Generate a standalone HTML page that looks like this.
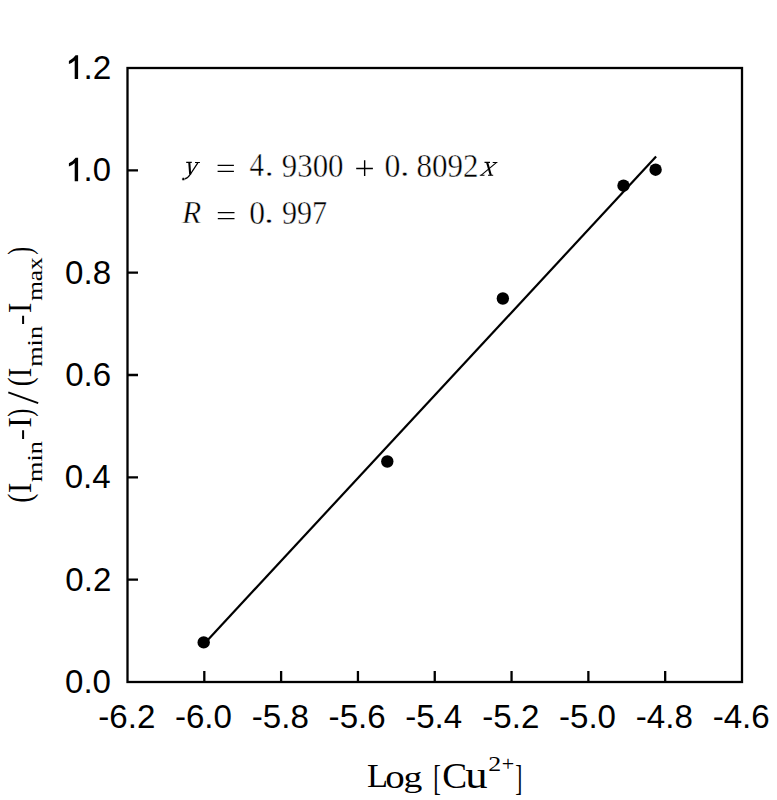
<!DOCTYPE html><html><head><meta charset="utf-8"><style>html,body{margin:0;padding:0;background:#fff;width:777px;height:800px;overflow:hidden}svg{display:block}</style></head><body>
<svg width="777" height="800" viewBox="0 0 777 800">
<rect x="0" y="0" width="777" height="800" fill="#fff"/>

<rect x="127.5" y="68" width="614.5" height="614" fill="none" stroke="#000" stroke-width="2.3"/>
<path d="M204.31 682V671 M281.12 682V671 M357.94 682V671 M434.75 682V671 M511.56 682V671 M588.37 682V671 M665.18 682V671 M127.5 579.67H138 M127.5 477.33H138 M127.5 375.00H138 M127.5 272.66H138 M127.5 170.33H138" stroke="#000" stroke-width="2.3" fill="none"/>
<g fill="#000">
<text transform="translate(98.28 727.98) scale(0.9972 1.0000)" font-family="'Liberation Sans', sans-serif" font-size="33.19">-6.2</text>
<text transform="translate(174.91 727.98) scale(0.9972 1.0000)" font-family="'Liberation Sans', sans-serif" font-size="33.19">-6.0</text>
<text transform="translate(251.79 727.98) scale(0.9972 1.0000)" font-family="'Liberation Sans', sans-serif" font-size="33.19">-5.8</text>
<text transform="translate(328.61 727.98) scale(0.9972 1.0000)" font-family="'Liberation Sans', sans-serif" font-size="33.19">-5.6</text>
<text transform="translate(405.18 727.97) scale(0.9828 1.0000)" font-family="'Liberation Sans', sans-serif" font-size="33.68">-5.4</text>
<text transform="translate(482.34 727.98) scale(0.9972 1.0000)" font-family="'Liberation Sans', sans-serif" font-size="33.19">-5.2</text>
<text transform="translate(558.97 727.98) scale(0.9972 1.0000)" font-family="'Liberation Sans', sans-serif" font-size="33.19">-5.0</text>
<text transform="translate(635.85 727.98) scale(0.9972 1.0000)" font-family="'Liberation Sans', sans-serif" font-size="33.19">-4.8</text>
<text transform="translate(712.67 727.98) scale(0.9972 1.0000)" font-family="'Liberation Sans', sans-serif" font-size="33.19">-4.6</text>
<text transform="translate(64.98 692.87) scale(0.9888 1.0000)" font-family="'Liberation Sans', sans-serif" font-size="33.47">0.0</text>
<text transform="translate(65.35 590.54) scale(0.9888 1.0000)" font-family="'Liberation Sans', sans-serif" font-size="33.47">0.2</text>
<text transform="translate(64.66 488.21) scale(0.9888 1.0000)" font-family="'Liberation Sans', sans-serif" font-size="33.47">0.4</text>
<text transform="translate(65.14 385.87) scale(0.9888 1.0000)" font-family="'Liberation Sans', sans-serif" font-size="33.47">0.6</text>
<text transform="translate(65.12 283.54) scale(0.9888 1.0000)" font-family="'Liberation Sans', sans-serif" font-size="33.47">0.8</text>
<text transform="translate(83.60 181.20) scale(0.9808 1.0000)" font-family="'Liberation Sans', sans-serif" font-size="33.47">.0</text>
<path transform="translate(0 102.33)" d="M78.1 55.3L78.1 79L74.7 79L74.7 60.6Q72.3 63 68.9 64.1L68.9 61Q73.2 58.8 75.6 55.3Z" fill="#000"/>
<text transform="translate(83.55 79.20) scale(0.9829 1.0000)" font-family="'Liberation Sans', sans-serif" font-size="33.94">.2</text>
<path transform="translate(0 -0.00)" d="M78.1 55.3L78.1 79L74.7 79L74.7 60.6Q72.3 63 68.9 64.1L68.9 61Q73.2 58.8 75.6 55.3Z" fill="#000"/>
</g>
<path d="M204.3 643.7L656.1 156.6" stroke="#000" stroke-width="2.2" fill="none"/>
<circle cx="203.7" cy="642.4" r="6.2" fill="#000"/>
<circle cx="387.3" cy="461.5" r="6.2" fill="#000"/>
<circle cx="502.85" cy="298.5" r="6.2" fill="#000"/>
<circle cx="623.5" cy="185.7" r="6.2" fill="#000"/>
<circle cx="655.6" cy="169.7" r="6.2" fill="#000"/>
<g fill="#000" stroke="#fff" stroke-width="0.45">
<g stroke="#000" fill="none"><path d="M186.2 162.4H191.8M195 162.5H199.9M484.5 162.4H490M492.7 162.5H497.4M479.8 175.3H484.5M488 175.3H493.2" stroke-width="1.1"/><path d="M189.3 162.5L190.2 174.5M487.2 162.6L490.8 175.2" stroke-width="2.1"/><path d="M197.8 162.8L190.2 174.5Q187.5 178.6 184 179.2" stroke-width="1.3"/><path d="M496.3 162.6L481.3 175.2" stroke-width="1.1"/></g><circle cx="183.3" cy="179.1" r="1.5" fill="#000"/>
<path d="M217.6 165.4H233.9M217.6 171.4H233.9M217.8 212.6H234.5M217.8 218.6H234.5" stroke="#000" stroke-width="1.4"/>
<text transform="translate(249.53 175.80) scale(0.8850 1.0000)" font-family="'Liberation Serif', serif" font-size="32.82">4</text>
<text transform="translate(264.86 175.80) scale(1.1466 1.0000)" font-family="'Liberation Serif', serif" font-size="31.00">.</text>
<text transform="translate(281.80 176.67) scale(0.9022 1.0000)" font-family="'Liberation Serif', serif" font-size="34.23">9300</text>
<path d="M356.2 168.45H372.9M364.65 160.2V176.1" stroke="#000" stroke-width="1.4"/>
<text transform="translate(384.49 176.67) scale(0.9305 1.0000)" font-family="'Liberation Serif', serif" font-size="34.23">0</text>
<text transform="translate(399.89 175.80) scale(1.2285 1.0000)" font-family="'Liberation Serif', serif" font-size="31.00">.</text>
<text transform="translate(416.52 176.67) scale(0.9070 1.0000)" font-family="'Liberation Serif', serif" font-size="34.23">8092</text>
<text transform="translate(181.97 223.00) scale(0.9923 1.0000)" font-family="'Liberation Serif', serif" font-size="31.77" font-style="italic">R</text>
<text transform="translate(249.20 223.66) scale(0.9196 1.0000)" font-family="'Liberation Serif', serif" font-size="34.38">0</text>
<text transform="translate(263.98 223.00) scale(1.2831 1.0000)" font-family="'Liberation Serif', serif" font-size="31.00">.</text>
<text transform="translate(281.93 223.66) scale(0.8735 1.0000)" font-family="'Liberation Serif', serif" font-size="34.53">997</text>
</g><g fill="#000">
<text transform="translate(366.91 787.40) scale(1.0171 1.0000)" font-family="'Liberation Serif', serif" font-size="33.90">L</text>
<text transform="translate(385.22 787.67) scale(1.1417 1.0000)" font-family="'Liberation Serif', serif" font-size="34.10">o</text>
<text transform="translate(403.58 787.09) scale(1.2483 1.0000)" font-family="'Liberation Serif', serif" font-size="30.18">g</text>
<text transform="translate(433.30 789.70) scale(0.6257 1.0000)" font-family="'Liberation Serif', serif" font-size="36.61">[</text>
<text transform="translate(442.27 787.75) scale(1.0318 1.0000)" font-family="'Liberation Serif', serif" font-size="36.17">C</text>
<text transform="translate(465.31 787.73) scale(1.1907 1.0000)" font-family="'Liberation Serif', serif" font-size="37.55">u</text>
<text transform="translate(488.26 770.50) scale(1.2097 1.0000)" font-family="'Liberation Serif', serif" font-size="21.45">2</text>
<text transform="translate(501.70 770.88) scale(1.0311 1.0000)" font-family="'Liberation Serif', serif" font-size="21.47">+</text>
<text transform="translate(515.14 789.78) scale(0.5737 1.0000)" font-family="'Liberation Serif', serif" font-size="36.79">]</text>
</g>
<g transform="translate(0 800) rotate(-90)" fill="#000">
<text transform="translate(297.20 30.80) scale(0.8259 1.0000)" font-family="'Liberation Serif', serif" font-size="33.00">(</text>
<text transform="translate(306.88 30.80) scale(0.9379 1.0000)" font-family="'Liberation Serif', serif" font-size="33.00">I</text>
<text transform="translate(318.05 41.60) scale(1.1965 1.0000)" font-family="'Liberation Serif', serif" font-size="22.00">min</text>
<text transform="translate(372.35 30.80) scale(0.9610 1.0000)" font-family="'Liberation Serif', serif" font-size="33.00">I</text>
<text transform="translate(383.22 30.80) scale(0.7315 1.0000)" font-family="'Liberation Serif', serif" font-size="33.00">)</text>
<text transform="translate(413.82 30.80) scale(0.8141 1.0000)" font-family="'Liberation Serif', serif" font-size="33.00">(</text>
<text transform="translate(422.66 30.80) scale(0.8684 1.0000)" font-family="'Liberation Serif', serif" font-size="33.00">I</text>
<text transform="translate(433.15 41.60) scale(1.1965 1.0000)" font-family="'Liberation Serif', serif" font-size="22.00">min</text>
<text transform="translate(486.98 30.80) scale(0.9379 1.0000)" font-family="'Liberation Serif', serif" font-size="33.00">I</text>
<text transform="translate(499.17 41.60) scale(1.1522 1.0000)" font-family="'Liberation Serif', serif" font-size="22.00">max</text>
<text transform="translate(545.23 30.80) scale(0.7197 1.0000)" font-family="'Liberation Serif', serif" font-size="33.00">)</text>
</g>
<path d="M23.1 430.2V439M23.1 315.8V323.9" stroke="#000" stroke-width="2"/><path d="M38.2 403.2L8.3 392.4" stroke="#000" stroke-width="1.9"/>
</svg></body></html>
